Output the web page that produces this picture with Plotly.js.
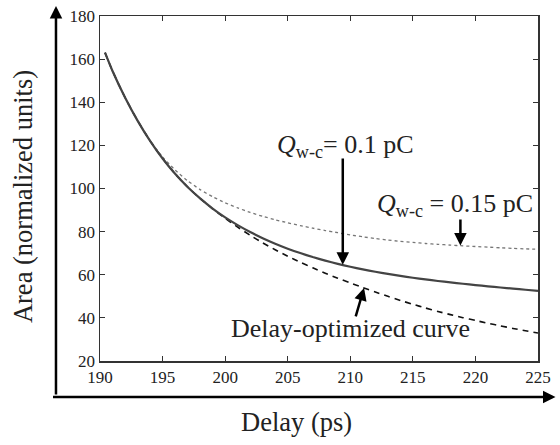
<!DOCTYPE html>
<html>
<head>
<meta charset="utf-8">
<script src="https://cdn.plot.ly/plotly-3.0.1.min.js"></script>
<style>html,body{margin:0;padding:0;background:#fff;}#chart{width:560px;height:445px;}</style>
</head>
<body>
<div id="chart"></div>
<script>
// Delay (ps)
const delay = [190.4, 191, 192, 193, 194, 195, 196, 197, 198, 199, 200, 201, 202, 203, 204, 205, 206, 207, 208, 209, 210, 211, 212, 213, 214, 215, 216, 217, 218, 219, 220, 221, 222, 223, 224, 225];
// Q_w-c = 0.1 pC (solid)
const areaQ01 = [163, 154.5, 142.2, 131.5, 122.1, 113.9, 106.8, 100.7, 95.4, 90.7, 86.6, 83.0, 79.8, 76.95, 74.4, 72.1, 70.05, 68.2, 66.55, 65.05, 63.7, 62.48, 61.38, 60.38, 59.46, 58.61, 57.83, 57.11, 56.44, 55.81, 55.21, 54.64, 54.09, 53.56, 53.05, 52.55];
// Q_w-c = 0.15 pC (dotted)
const areaQ015 = [163, 154.5, 142.2, 131.5, 122.2, 114.6, 108.6, 103.6, 99.5, 96.2, 93.4, 91.0, 88.9, 87.1, 85.5, 84.1, 82.8, 81.6, 80.5, 79.5, 78.5, 77.6, 76.8, 76.1, 75.5, 75.0, 74.5, 74.1, 73.75, 73.4, 73.1, 72.8, 72.5, 72.25, 72.0, 71.8];
// Delay-optimized curve (dashed)
const areaOpt = [163, 154.5, 142.2, 131.5, 122.1, 113.9, 106.8, 100.7, 95.4, 90.6, 86.2, 82.1, 78.3, 74.8, 71.6, 68.6, 65.8, 63.2, 60.7, 58.4, 56.2, 54.1, 52.0, 50.0, 48.1, 46.3, 44.6, 43.0, 41.5, 40.1, 38.8, 37.5, 36.3, 35.1, 34.0, 33.0];
const xTicks = [190, 195, 200, 205, 210, 215, 220, 225];
const yTicks = [20, 40, 60, 80, 100, 120, 140, 160, 180];

const serif = 'Liberation Serif';

const traces = [
  {x: delay, y: areaQ015, mode: 'lines', line: {color: '#777', width: 1.3, dash: 'dot', shape: 'spline', smoothing: 0.5}, name: 'Q 0.15'},
  {x: delay, y: areaOpt, mode: 'lines', line: {color: '#111', width: 1.6, dash: '6px,5px', shape: 'spline', smoothing: 0.5}, name: 'opt'},
  {x: delay, y: areaQ01, mode: 'lines', line: {color: '#444', width: 2.2, shape: 'spline', smoothing: 0.5}, name: 'Q 0.1'}
];

const axisArrow = {showarrow: true, arrowhead: 2, arrowsize: 1, arrowwidth: 2.5, arrowcolor: '#000', text: '', standoff: 0};
const ptrArrow = {showarrow: true, arrowhead: 2, arrowsize: 1, arrowwidth: 2.5, arrowcolor: '#000', text: '', standoff: 0, xref: 'x', yref: 'y', axref: 'x', ayref: 'y'};

const layout = {
  width: 560, height: 445,
  margin: {l: 100, r: 22, t: 16, b: 84},
  paper_bgcolor: '#fff', plot_bgcolor: '#fff',
  showlegend: false,
  font: {family: serif, color: '#222', size: 17},
  xaxis: {
    range: [190, 225], tickvals: xTicks, ticktext: xTicks.map(String),
    ticks: 'inside', ticklen: 5, tickcolor: '#333', showline: true, mirror: 'ticks',
    linecolor: '#333', linewidth: 1.5, showgrid: false, zeroline: false,
    tickfont: {family: serif, size: 17, color: '#222'}
  },
  yaxis: {
    range: [20, 180], tickvals: yTicks, ticktext: yTicks.map(String),
    ticks: 'inside', ticklen: 5, tickcolor: '#333', showline: true, mirror: 'ticks',
    linecolor: '#333', linewidth: 1.5, showgrid: false, zeroline: false,
    tickfont: {family: serif, size: 17, color: '#222'}
  },
  annotations: [
    Object.assign({}, axisArrow, {xref: 'paper', yref: 'paper', x: -0.1005, y: 1.029, ax: 0, ay: 390}),
    Object.assign({}, axisArrow, {xref: 'paper', yref: 'paper', x: 1.04, y: -0.104, ax: -504, ay: 0}),
    Object.assign({}, ptrArrow, {x: 209.4, y: 64.6, ax: 209.4, ay: 114.6}),
    Object.assign({}, ptrArrow, {x: 218.8, y: 73.6, ax: 218.8, ay: 86.3}),
    Object.assign({}, ptrArrow, {x: 211.1, y: 53.9, ax: 210.4, ay: 40.0}),
    {xref: 'paper', yref: 'paper', x: 0.4475, y: -0.1768, xanchor: 'center', yanchor: 'middle', showarrow: false,
     text: 'Delay (ps)', font: {family: serif, size: 26.5, color: '#222'}},
    {xref: 'paper', yref: 'paper', x: -0.1758, y: 0.478, xanchor: 'center', yanchor: 'middle', showarrow: false, textangle: -90,
     text: 'Area (normalized units)', font: {family: serif, size: 26.5, color: '#222'}},
    {xref: 'x', yref: 'y', x: 204.0, y: 119.5, xanchor: 'left', yanchor: 'middle', showarrow: false,
     text: '<i>Q</i><sub>w-c</sub>= 0.1 pC', font: {family: serif, size: 26, color: '#222'}},
    {xref: 'x', yref: 'y', x: 212.0, y: 92.3, xanchor: 'left', yanchor: 'middle', showarrow: false,
     text: '<i>Q</i><sub>w-c</sub> = 0.15 pC', font: {family: serif, size: 26, color: '#222'}},
    {xref: 'x', yref: 'y', x: 200.3, y: 35.0, xanchor: 'left', yanchor: 'middle', showarrow: false,
     text: 'Delay-optimized curve', font: {family: serif, size: 26, color: '#222'}}
  ]
};

Plotly.newPlot('chart', traces, layout, {displayModeBar: false, staticPlot: true});
</script>
</body>
</html>
